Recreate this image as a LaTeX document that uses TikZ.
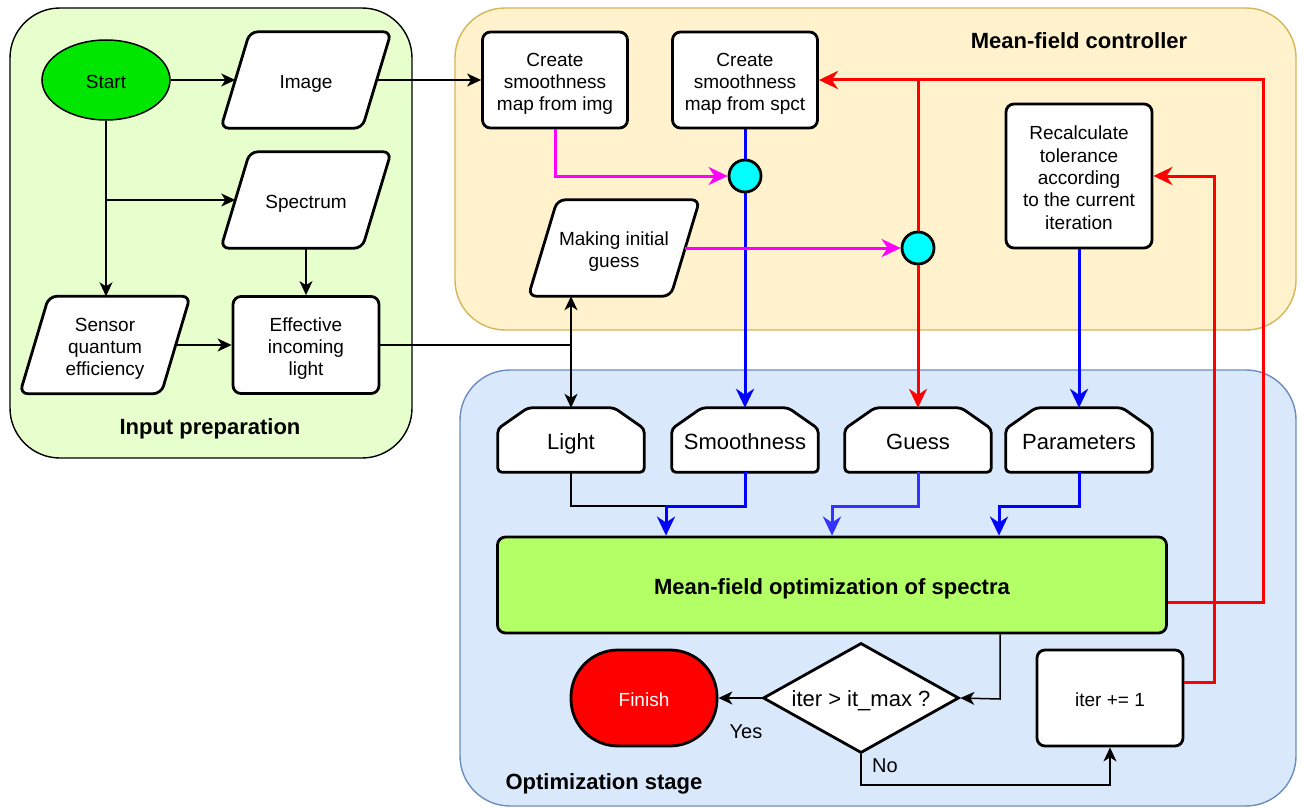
\documentclass[tikz,border=0pt]{standalone}
\usepackage{fontspec}
\setmainfont{Liberation Sans}
\usetikzlibrary{arrows.meta,shapes.geometric,backgrounds,calc}
\definecolor{inprep}{HTML}{E6FFCC}
\definecolor{ctrlfill}{HTML}{FFF2CC}
\definecolor{ctrlborder}{HTML}{D6B656}
\definecolor{optfill}{HTML}{DAE8FC}
\definecolor{optborder}{HTML}{6C8EBF}
\definecolor{startgreen}{HTML}{00E600}
\definecolor{optgreen}{HTML}{B3FF66}
\definecolor{pureblue}{HTML}{0000FF}
\definecolor{guessblue}{HTML}{3333FF}
\definecolor{puremag}{HTML}{FF00FF}
\definecolor{purered}{HTML}{FF0000}
\definecolor{purecyan}{HTML}{00FFFF}
\newcommand\myfs{\fontsize{19}{22.3}\selectfont}
\newcommand\mylg{\fontsize{22}{26}\selectfont}
% struts that make the text box independent of ascenders/descenders
\newcommand\tsa{\rule{0pt}{22pt}}
\newcommand\bsa{\rule[-5pt]{0pt}{5pt}}
\newcommand\tsb{\rule{0pt}{24pt}}
\newcommand\bsb{\rule[-5.5pt]{0pt}{5.5pt}}
\newcommand\drawpara[2]{\draw[parashape] ([xshift=-#2]#1.south west) -- ([xshift=-#2]#1.south east) -- ([xshift=#2]#1.north east) -- ([xshift=#2]#1.north west) -- cycle;}
\newcommand\drawll[1]{\draw[llshape] ([yshift=-21pt]#1.north west) -- ([xshift=30pt]#1.north west) -- ([xshift=-30pt]#1.north east) -- ([yshift=-21pt]#1.north east) -- (#1.south east) -- (#1.south west) -- cycle;}
\begin{document}
\begin{tikzpicture}[x=1pt,y=-1pt,
 box/.style={draw, line width=2.8pt, rounded corners=8pt, fill=white, align=center, inner sep=0pt, font=\myfs},
 para/.style={align=center, inner sep=0pt, minimum height=96pt, font=\myfs},
 parashape/.style={draw, line width=2.8pt, rounded corners=8pt, fill=white},
 llnode/.style={inner sep=0pt, minimum width=146pt, minimum height=64pt, font=\mylg},
 llshape/.style={draw, line width=2.8pt, rounded corners=4pt, fill=white},
 junction/.style={circle, draw, line width=2.8pt, fill=purecyan, minimum size=32pt, inner sep=0pt},
 title/.style={font=\mylg\bfseries, anchor=base, inner sep=0pt},
 container/.style={line width=1.4pt, rounded corners=50pt},
 conn/.style={line width=1.5pt, -{Stealth[length=14pt,width=13pt,inset=4pt]}},
 thinline/.style={line width=1.5pt},
 fat/.style={line width=3pt, draw=#1},
 fatarr/.style={line width=3pt, draw=#1, -{Stealth[length=19pt,width=18pt,inset=6pt]}},
]
\useasboundingbox (0,0) rectangle (1304,808);

% nodes
\node[ellipse, draw, line width=1.5pt, fill=startgreen, minimum width=128pt, minimum height=80pt, inner sep=0pt, font=\myfs] (start) at (106,80) {\tsa Start\bsa};
\node[para, minimum width=141pt] (img) at (306,80) {\tsa Image\bsa};
\node[para, minimum width=141pt] (spec) at (306,200) {\tsa Spectrum\bsa};
\node[para, minimum width=141pt, minimum height=97pt] (sqe) at (105,345) {\tsa Sensor\\quantum\\efficiency\bsa};
\node[box, minimum width=146pt, minimum height=97pt] (eff) at (306,345) {\tsa Effective\\incoming\\light\bsa};
\node[box, minimum width=145pt, minimum height=96pt] (cimg) at (555,80) {\tsa Create\\smoothness\\map from img\bsa};
\node[box, minimum width=145pt, minimum height=96pt] (cspct) at (745,80) {\tsa Create\\smoothness\\map from spct\bsa};
\node[junction] (c1) at (745,176) {};
\node[para, minimum width=142pt] (mig) at (614,248) {\tsa Making initial\\guess\bsa};
\node[junction] (c2) at (918,248) {};
\node[box, minimum width=146pt, minimum height=144pt] (recalc) at (1079,176) {\tsa Recalculate\\tolerance\\according\\to the current\\iteration\bsa};
\node[llnode] (light) at (571,440) {\tsb Light\bsb};
\node[llnode] (smooth) at (745,440) {\tsb Smoothness\bsb};
\node[llnode] (guess) at (918,440) {\tsb Guess\bsb};
\node[llnode] (params) at (1079,440) {\tsb Parameters\bsb};
\node[box, fill=optgreen, minimum width=669pt, minimum height=96pt, font=\mylg\bfseries] (opt) at (832,585) {\tsb Mean-field optimization of spectra\bsb};
\node[draw, line width=2.8pt, fill=purered, rounded corners=47pt, minimum width=146pt, minimum height=96pt, inner sep=0pt, text=white, font=\myfs] (fin) at (644,698) {\tsa Finish\bsa};
\node[diamond, draw, line width=2.8pt, fill=white, minimum width=196pt, minimum height=110pt, inner sep=0pt, aspect=1.78, font=\mylg] (dec) at (861,698) {\rule{0pt}{22pt}iter > it\_max ?\rule[-5pt]{0pt}{5pt}};
\node[box, minimum width=146pt, minimum height=96pt] (iter) at (1110,698) {\tsa iter += 1\bsa};

\node[font=\fontsize{20}{24}\selectfont, anchor=base, inner sep=0pt] (yes) at (746,738) {Yes};
\node[font=\fontsize{20}{24}\selectfont, anchor=base, inner sep=0pt] (no) at (885,772) {No};
\node[title] (t1) at (210,434) {Input preparation};
\node[title] (t2) at (1079,48.5) {Mean-field controller};
\node[title] (t3) at (604,789) {Optimization stage};

% connectors
\draw[conn] (start) -- (img);
\draw[conn] (start.south) -- (start.south |- sqe.north);
\coordinate (sb) at (start.south |- spec.west);
\draw[conn] (sb) -- (spec.west);
\draw[conn] (spec) -- (eff);
\draw[conn] (sqe) -- (eff);
\coordinate (lj) at (light.north |- eff.east);
\draw[thinline] (eff.east) -- (lj);
\draw[conn] (lj) -- (light.north);
\draw[conn] (lj) -- (lj |- mig.south);
\draw[conn] (img) -- (cimg);
\draw[fatarr=puremag] (cimg.south) |- (c1.west);
\draw[fat=pureblue] (cspct.south) -- (c1.north);
\draw[fatarr=pureblue] (c1.south) -- (smooth.north);
\draw[fatarr=puremag] (mig.east) -- (c2.west);
\coordinate (rtop) at (1263,80);
\draw[fatarr=purered] ([yshift=-17pt]opt.east) -| (rtop) -- (cspct.east);
\draw[fat=purered] (c2.north |- rtop) -- (c2.north);
\draw[fatarr=purered] (c2.south) -- (guess.north);
\coordinate (rmid) at (1214,176);
\draw[fatarr=purered] ([yshift=16pt]iter.east) -| (rmid) -- (recalc.east);
\draw[fatarr=pureblue] (recalc.south) -- (params.north);

\coordinate (m1) at (666,506);
\coordinate (m2) at (832,506);
\coordinate (m3) at (999,506);
\draw[thinline] (light.south) |- (m1);
\draw[fatarr=pureblue] (smooth.south) |- (m1) -- (m1 |- opt.north);
\draw[fatarr=guessblue] (guess.south) |- (m2) -- (m2 |- opt.north);
\draw[fatarr=pureblue] (params.south) |- (m3) -- (m3 |- opt.north);

\coordinate (d1) at (1000,699);
\draw[conn] (opt.south -| d1) -- (d1) -- (dec.east);
\draw[conn] (dec.west) -- (fin.east);
\coordinate (d2) at (1110,785);
\draw[conn] (dec.south) |- (d2) -- (iter.south);

\begin{pgfonlayer}{background}
\draw[container, fill=inprep] (10,8) rectangle (412,458);
\draw[container, draw=ctrlborder, fill=ctrlfill] (455,8) rectangle (1296,330);
\draw[container, draw=optborder, fill=optfill] (460,370) rectangle (1296,806);
\drawpara{img}{14.5pt}
\drawpara{spec}{14.5pt}
\drawpara{sqe}{14.5pt}
\drawpara{mig}{14.5pt}
\drawll{light}
\drawll{smooth}
\drawll{guess}
\drawll{params}
\end{pgfonlayer}
\end{tikzpicture}
\end{document}
